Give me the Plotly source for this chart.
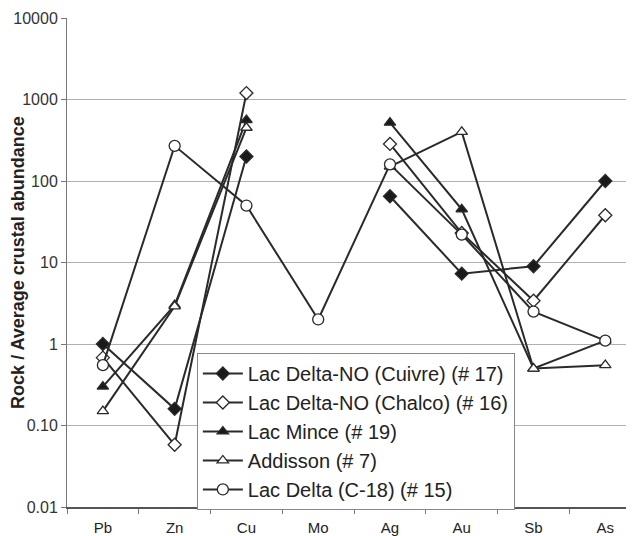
import plotly.graph_objects as go

elements = ["Pb", "Zn", "Cu", "Mo", "Ag", "Au", "Sb", "As"]

cuivre = [1.0, 0.16, 200, None, 65, 7.3, 9.0, 100]
chalco = [0.68, 0.058, 1200, None, 285, 23, 3.4, 38]
mince = [0.30, 3.0, 560, None, 520, 45, 0.5, 1.1]
addisson = [0.15, 2.9, 450, None, 150, 400, 0.5, 0.55]
c18 = [0.55, 270, 50, 2.0, 160, 22, 2.5, 1.1]

series = [
    ("Lac Delta-NO (Cuivre) (# 17)", cuivre, "diamond", "#1a1a1a", 10),
    ("Lac Delta-NO (Chalco) (# 16)", chalco, "diamond", "white", 10),
    ("Lac Mince (# 19)", mince, "triangle-up", "#1a1a1a", 10),
    ("Addisson (# 7)", addisson, "triangle-up", "white", 10),
    ("Lac Delta (C-18) (# 15)", c18, "circle", "white", 11),
]

ytickvals = [0.01, 0.1, 1, 10, 100, 1000, 10000]
yticktext = ["0.01", "0.10", "1", "10", "100", "1000", "10000"]

fig = go.Figure()
for i, (name, vals, sym, fill, sz) in enumerate(series):
    fig.add_trace(go.Scatter(
        x=elements, y=vals, name=name, mode="lines+markers",
        connectgaps=False, legendgroup=str(i),
        line=dict(color="#2a2a2a", width=2),
        marker=dict(symbol=sym, size=sz,
                    color=fill, line=dict(color="#2a2a2a", width=1.3)),
    ))

fig.update_layout(
    width=626, height=528,
    margin=dict(l=59, r=0, t=10, b=29),
    paper_bgcolor="white", plot_bgcolor="white",
    font=dict(family="Liberation Sans, Arial, sans-serif", color="#222", size=15),
    showlegend=True,
    legend=dict(x=0.229, y=0.315, xanchor="left", yanchor="top",
                bgcolor="white", bordercolor="#888", borderwidth=1,
                font=dict(size=20, color="#222"), tracegroupgap=0,
                itemwidth=40),
    xaxis=dict(type="category", range=[-0.5, 7.4], showgrid=False,
               showline=True, linecolor="#555", linewidth=1.5,
               ticks="outside", tickson="boundaries", ticklen=5, tickcolor="#777",
               ticklabelstandoff=6, automargin=False,
               tickfont=dict(size=15, color="#222")),
    yaxis=dict(type="log", range=[-2, 4], tickvals=ytickvals, ticktext=yticktext,
               showgrid=True, gridcolor="#b0b0b0", gridwidth=1,
               showline=True, linecolor="#777", linewidth=1,
               ticks="outside", ticklen=5, tickcolor="#777",
               automargin=False,
               tickfont=dict(size=16, color="#333"),
               title=dict(text="<b>Rock / Average crustal abundance</b>",
                          font=dict(size=18, color="#222"), standoff=4)),
)

fig.write_html("out.html")
